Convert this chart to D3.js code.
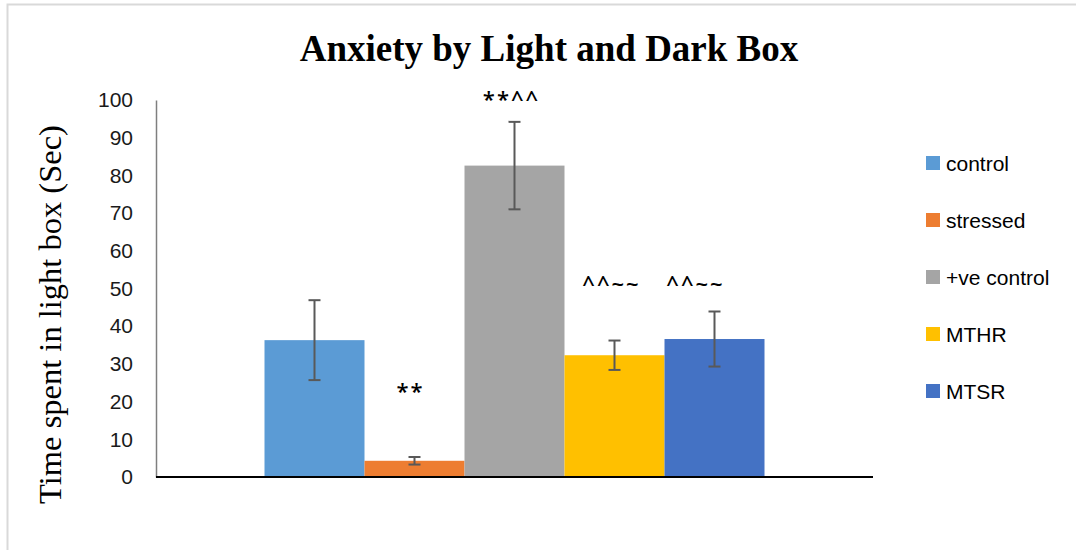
<!DOCTYPE html>
<html>
<head>
<meta charset="utf-8">
<script src="https://cdn.jsdelivr.net/npm/d3@7"></script>
<style>
  html, body { margin: 0; padding: 0; background: #fff; }
  svg { display: block; }
</style>
</head>
<body>
<svg id="chart" width="1076" height="550"></svg>
<script>
// Groups, mean time in the light box (s) and error half-widths
const groups = ["control", "stressed", "+ve control", "MTHR", "MTSR"];
const means = [36.3, 4.3, 82.6, 32.3, 36.6];
const errors = [10.6, 1.0, 11.6, 3.9, 7.3];
const colors = ["#5b9bd5", "#ed7d31", "#a5a5a5", "#ffc000", "#4472c4"];
const yTicks = [0, 10, 20, 30, 40, 50, 60, 70, 80, 90, 100];

// Significance marks, anchored at a value on the y scale
const markGroups = ["stressed", "+ve control", "MTHR", "MTSR"];
const markTexts = ["**", "**^^", "^^~~", "^^~~"];
const markLevels = [23, 100.5, 51.5, 51.5];

const svg = d3.select("#chart");
const W = 1076, H = 550;

// Outer frame (left and top edges)
svg.append("path")
  .attr("d", `M7.5,${H} V4.5 H${W}`)
  .attr("fill", "none")
  .attr("stroke", "#d9d9d9")
  .attr("stroke-width", 2);

const plot = { left: 156, right: 873, top: 100, bottom: 477 };

const x0 = d3.scaleBand()
  .domain(["all"])
  .range([plot.left, plot.right])
  .paddingOuter(0.217)
  .paddingInner(0);

const x1 = d3.scaleBand()
  .domain(groups)
  .range([0, x0.bandwidth()])
  .padding(0);

const y = d3.scaleLinear().domain([0, 100]).range([plot.bottom, plot.top]);

// Title
svg.append("text")
  .attr("x", 549)
  .attr("y", 61)
  .attr("text-anchor", "middle")
  .attr("font-family", "'Liberation Serif', 'Times New Roman', serif")
  .attr("font-weight", "bold")
  .attr("font-size", 37)
  .attr("fill", "#000")
  .text("Anxiety by Light and Dark Box");

// Y axis title
svg.append("text")
  .attr("transform", `translate(61, ${(plot.top + plot.bottom) / 2 + 26}) rotate(-90)`)
  .attr("text-anchor", "middle")
  .attr("font-family", "'Liberation Serif', 'Times New Roman', serif")
  .attr("font-size", 32.5)
  .attr("fill", "#000")
  .text("Time spent in light box (Sec)");

// Y axis
const yAxis = svg.append("g")
  .attr("transform", `translate(${plot.left},0)`)
  .call(d3.axisLeft(y).tickValues(yTicks).tickSize(0).tickPadding(23));
yAxis.select(".domain").attr("stroke", "#7f7f7f").attr("stroke-width", 1.5);
yAxis.selectAll("text")
  .attr("font-family", "'Liberation Sans', Arial, sans-serif")
  .attr("font-size", 21)
  .attr("fill", "#1a1a1a");

// Bars
const barG = svg.append("g").attr("transform", `translate(${x0("all")},0)`);
barG.selectAll("rect")
  .data(groups)
  .join("rect")
  .attr("x", d => x1(d))
  .attr("width", x1.bandwidth())
  .attr("y", (d, i) => y(means[i]))
  .attr("height", (d, i) => y(0) - y(means[i]))
  .attr("fill", (d, i) => colors[i]);

// Error bars
const capHalf = 6;
const eb = barG.selectAll("g.err")
  .data(groups)
  .join("g")
  .attr("class", "err")
  .attr("stroke", "#595959")
  .attr("stroke-width", 2);
eb.append("line")
  .attr("x1", d => x1(d) + x1.bandwidth() / 2)
  .attr("x2", d => x1(d) + x1.bandwidth() / 2)
  .attr("y1", (d, i) => y(means[i] + errors[i]))
  .attr("y2", (d, i) => y(means[i] - errors[i]));
eb.append("line")
  .attr("x1", d => x1(d) + x1.bandwidth() / 2 - capHalf)
  .attr("x2", d => x1(d) + x1.bandwidth() / 2 + capHalf)
  .attr("y1", (d, i) => y(means[i] + errors[i]))
  .attr("y2", (d, i) => y(means[i] + errors[i]));
eb.append("line")
  .attr("x1", d => x1(d) + x1.bandwidth() / 2 - capHalf)
  .attr("x2", d => x1(d) + x1.bandwidth() / 2 + capHalf)
  .attr("y1", (d, i) => y(means[i] - errors[i]))
  .attr("y2", (d, i) => y(means[i] - errors[i]));

// X axis baseline
svg.append("line")
  .attr("x1", plot.left)
  .attr("x2", plot.right)
  .attr("y1", y(0))
  .attr("y2", y(0))
  .attr("stroke", "#000")
  .attr("stroke-width", 2);

// Significance marks
const markNudge = { "stressed": -4, "+ve control": -3, "MTHR": -3, "MTSR": -19 };
barG.selectAll("text.mark")
  .data(markGroups)
  .join("text")
  .attr("class", "mark")
  .attr("x", d => x1(d) + x1.bandwidth() / 2 + markNudge[d])
  .attr("y", (d, i) => y(markLevels[i]))
  .attr("dy", "0.4em")
  .attr("text-anchor", "middle")
  .attr("font-family", "'Open Sans', 'Noto Sans', sans-serif")
  .attr("font-size", 22)
  .attr("font-weight", 600)
  .attr("letter-spacing", 2)
  .attr("fill", "#000")
  .text((d, i) => markTexts[i]);

// Legend
const legend = svg.append("g").attr("transform", "translate(926,163)");
const item = legend.selectAll("g")
  .data(groups)
  .join("g")
  .attr("transform", (d, i) => `translate(0, ${i * 57})`);
item.append("rect")
  .attr("x", 0).attr("y", -7)
  .attr("width", 14).attr("height", 14)
  .attr("fill", (d, i) => colors[i]);
item.append("text")
  .attr("x", 20)
  .attr("y", 0)
  .attr("dy", "0.36em")
  .attr("font-family", "'Liberation Sans', Arial, sans-serif")
  .attr("font-size", 21)
  .attr("fill", "#000")
  .text(d => d);
</script>
</body>
</html>
